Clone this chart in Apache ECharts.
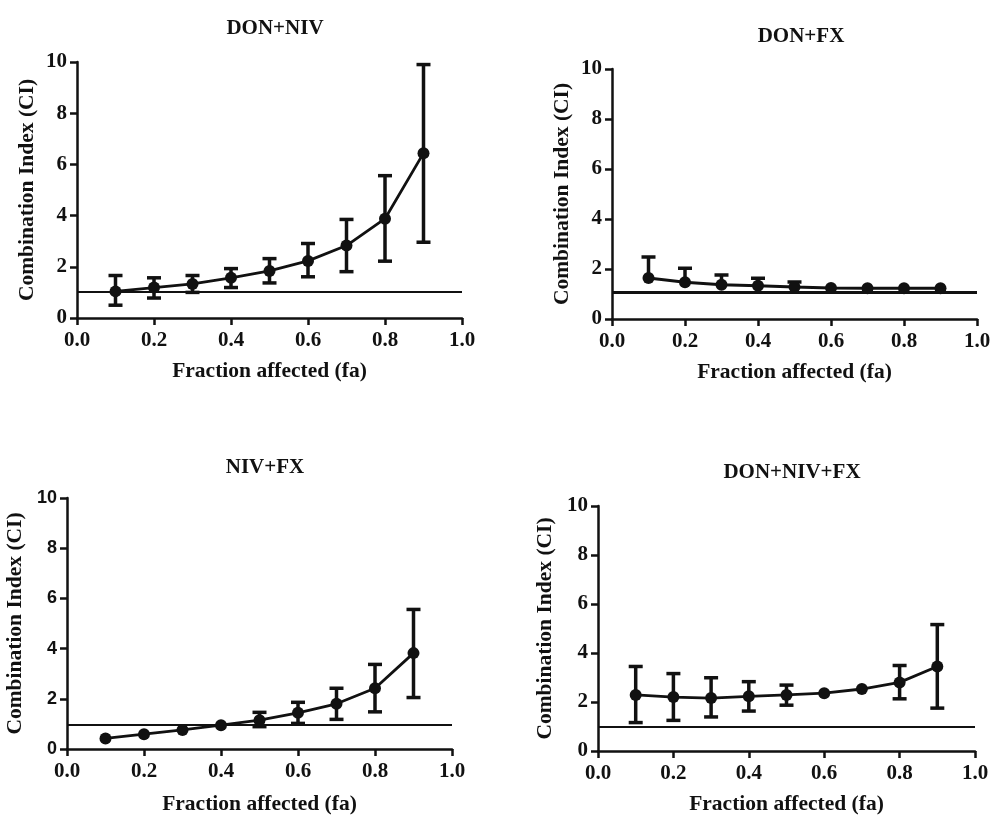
<!DOCTYPE html>
<html>
<head>
<meta charset="utf-8">
<script src="https://cdn.jsdelivr.net/npm/echarts@6/dist/echarts.min.js"></script>
<style>html,body{margin:0;padding:0;background:#fff}#c{width:994px;height:816px}</style>
</head>
<body>
<div id="c"></div>
<script>
// ---- data ----
const fa = [0.1, 0.2, 0.3, 0.4, 0.5, 0.6, 0.7, 0.8, 0.9];
const xTicks = [0.0, 0.2, 0.4, 0.6, 0.8, 1.0];
const yTicks = [0, 2, 4, 6, 8, 10];
const panelTitles = ['DON+NIV', 'DON+FX', 'NIV+FX', 'DON+NIV+FX'];

const donNivMean = [1.04, 1.19, 1.33, 1.57, 1.84, 2.23, 2.83, 3.88, 6.44];
const donNivLow  = [0.50, 0.78, 1.00, 1.19, 1.37, 1.61, 1.81, 2.22, 2.96];
const donNivHigh = [1.66, 1.57, 1.66, 1.93, 2.32, 2.91, 3.85, 5.56, 9.90];

const donFxMean = [1.64, 1.47, 1.37, 1.33, 1.28, 1.24, 1.23, 1.23, 1.23];
const donFxLow  = [1.64, 1.47, 1.37, 1.33, 1.28, 1.24, 1.23, 1.23, 1.23];
const donFxHigh = [2.48, 2.03, 1.76, 1.63, 1.48, 1.24, 1.23, 1.23, 1.23];

const nivFxMean = [0.42, 0.59, 0.76, 0.95, 1.15, 1.44, 1.80, 2.42, 3.82];
const nivFxLow  = [0.42, 0.59, 0.76, 0.95, 0.89, 1.02, 1.18, 1.48, 2.05];
const nivFxHigh = [0.42, 0.59, 0.76, 0.95, 1.46, 1.86, 2.42, 3.37, 5.56];

const allMean = [2.29, 2.20, 2.16, 2.23, 2.29, 2.36, 2.53, 2.80, 3.45];
const allLow  = [1.16, 1.25, 1.39, 1.63, 1.87, 2.36, 2.53, 2.13, 1.75];
const allHigh = [3.45, 3.16, 2.99, 2.83, 2.69, 2.36, 2.53, 3.49, 5.16];

const refLines = [1.03, 1.07, 0.97, 1.0];

// ---- layout / style ----
const INK = '#111';
const SERIF = '"Liberation Serif", "Times New Roman", serif';
const SANS = '"Liberation Sans", Arial, sans-serif';

const panels = [
  {mean: donNivMean, low: donNivLow, high: donNivHigh, grid: {left: 77, top: 62, width: 385, height: 256}, title: [270, 13], yFont: SERIF, ySize: 21, xGap: 42, yGap: 39},
  {mean: donFxMean, low: donFxLow, high: donFxHigh, grid: {left: 612, top: 69, width: 365, height: 250}, title: [796, 21], yFont: SERIF, ySize: 21, xGap: 42, yGap: 39, refW: 3},
  {mean: nivFxMean, low: nivFxLow, high: nivFxHigh, grid: {left: 67, top: 498, width: 385, height: 255}, title: [260, 452], yFont: SANS, ySize: 18, xGap: 44, yGap: 41},
  {mean: allMean, low: allLow, high: allHigh, grid: {left: 598, top: 506, width: 377, height: 250}, title: [787, 457], yFont: SERIF, ySize: 21, xGap: 42, yGap: 42}
];

function errRender(params, api) {
  const x = api.value(0), lo = api.value(1), hi = api.value(2), m = api.value(3);
  const pLo = api.coord([x, lo]);
  const pHi = api.coord([x, hi]);
  const half = 7;
  const st = {stroke: INK, lineWidth: 3.5};
  const children = [];
  if (hi > lo) {
    children.push({type: 'line', shape: {x1: pLo[0], y1: pLo[1], x2: pHi[0], y2: pHi[1]}, style: st});
  }
  if (hi > m) {
    children.push({type: 'line', shape: {x1: pHi[0] - half, y1: pHi[1], x2: pHi[0] + half, y2: pHi[1]}, style: st});
  }
  if (lo < m) {
    children.push({type: 'line', shape: {x1: pLo[0] - half, y1: pLo[1], x2: pLo[0] + half, y2: pLo[1]}, style: st});
  }
  return {type: 'group', children: children};
}

const option = {
  animation: false,
  backgroundColor: '#fff',
  title: panels.map((p, i) => ({
    text: panelTitles[i],
    left: p.title[0], top: p.title[1], textAlign: 'center',
    textStyle: {fontFamily: SERIF, fontWeight: 'bold', fontSize: 21, color: INK}
  })),
  grid: panels.map(p => Object.assign({}, p.grid)),
  xAxis: panels.map((p, i) => ({
    type: 'value', gridIndex: i,
    min: xTicks[0], max: xTicks[xTicks.length - 1], interval: xTicks[1] - xTicks[0],
    name: 'Fraction affected (fa)', nameLocation: 'middle', nameGap: p.xGap,
    nameTextStyle: {fontFamily: SERIF, fontWeight: 'bold', fontSize: 21.5, color: INK},
    axisLine: {show: true, onZero: false, lineStyle: {color: INK, width: 2.5}},
    axisTick: {show: true, length: 7, lineStyle: {color: INK, width: 2.5}},
    axisLabel: {fontFamily: SERIF, fontWeight: 'bold', fontSize: 21, color: INK, margin: 12,
      formatter: v => v.toFixed(1)},
    splitLine: {show: false}
  })),
  yAxis: panels.map((p, i) => ({
    type: 'value', gridIndex: i,
    min: yTicks[0], max: yTicks[yTicks.length - 1], interval: yTicks[1] - yTicks[0],
    name: 'Combination Index (CI)', nameLocation: 'middle', nameGap: p.yGap,
    nameTextStyle: {fontFamily: SERIF, fontWeight: 'bold', fontSize: 21.5, color: INK},
    axisLine: {show: true, onZero: false, lineStyle: {color: INK, width: 2.5}},
    axisTick: {show: true, length: 7, lineStyle: {color: INK, width: 2.5}},
    axisLabel: {fontFamily: p.yFont, fontWeight: 'bold', fontSize: p.ySize, color: INK, margin: 10},
    splitLine: {show: false}
  })),
  series: []
};

panels.forEach((p, i) => {
  option.series.push({
    type: 'custom', xAxisIndex: i, yAxisIndex: i,
    renderItem: errRender,
    dimensions: ['x', 'lo', 'hi', 'm'],
    encode: {x: 0, y: [1, 2]},
    data: fa.map((x, k) => [x, p.low[k], p.high[k], p.mean[k]]),
    z: 3, silent: true
  });
  option.series.push({
    type: 'line', xAxisIndex: i, yAxisIndex: i,
    data: fa.map((x, k) => [x, p.mean[k]]),
    symbol: 'circle', symbolSize: 12,
    itemStyle: {color: INK},
    lineStyle: {color: INK, width: 2.8},
    z: 4, silent: true,
    markLine: {
      silent: true, symbol: 'none', label: {show: false},
      lineStyle: {color: INK, width: p.refW || 2.2, type: 'solid'},
      data: [{yAxis: refLines[i]}]
    }
  });
});

const chart = echarts.init(document.getElementById('c'), null, {renderer: 'canvas'});
chart.setOption(option);
</script>
</body>
</html>
